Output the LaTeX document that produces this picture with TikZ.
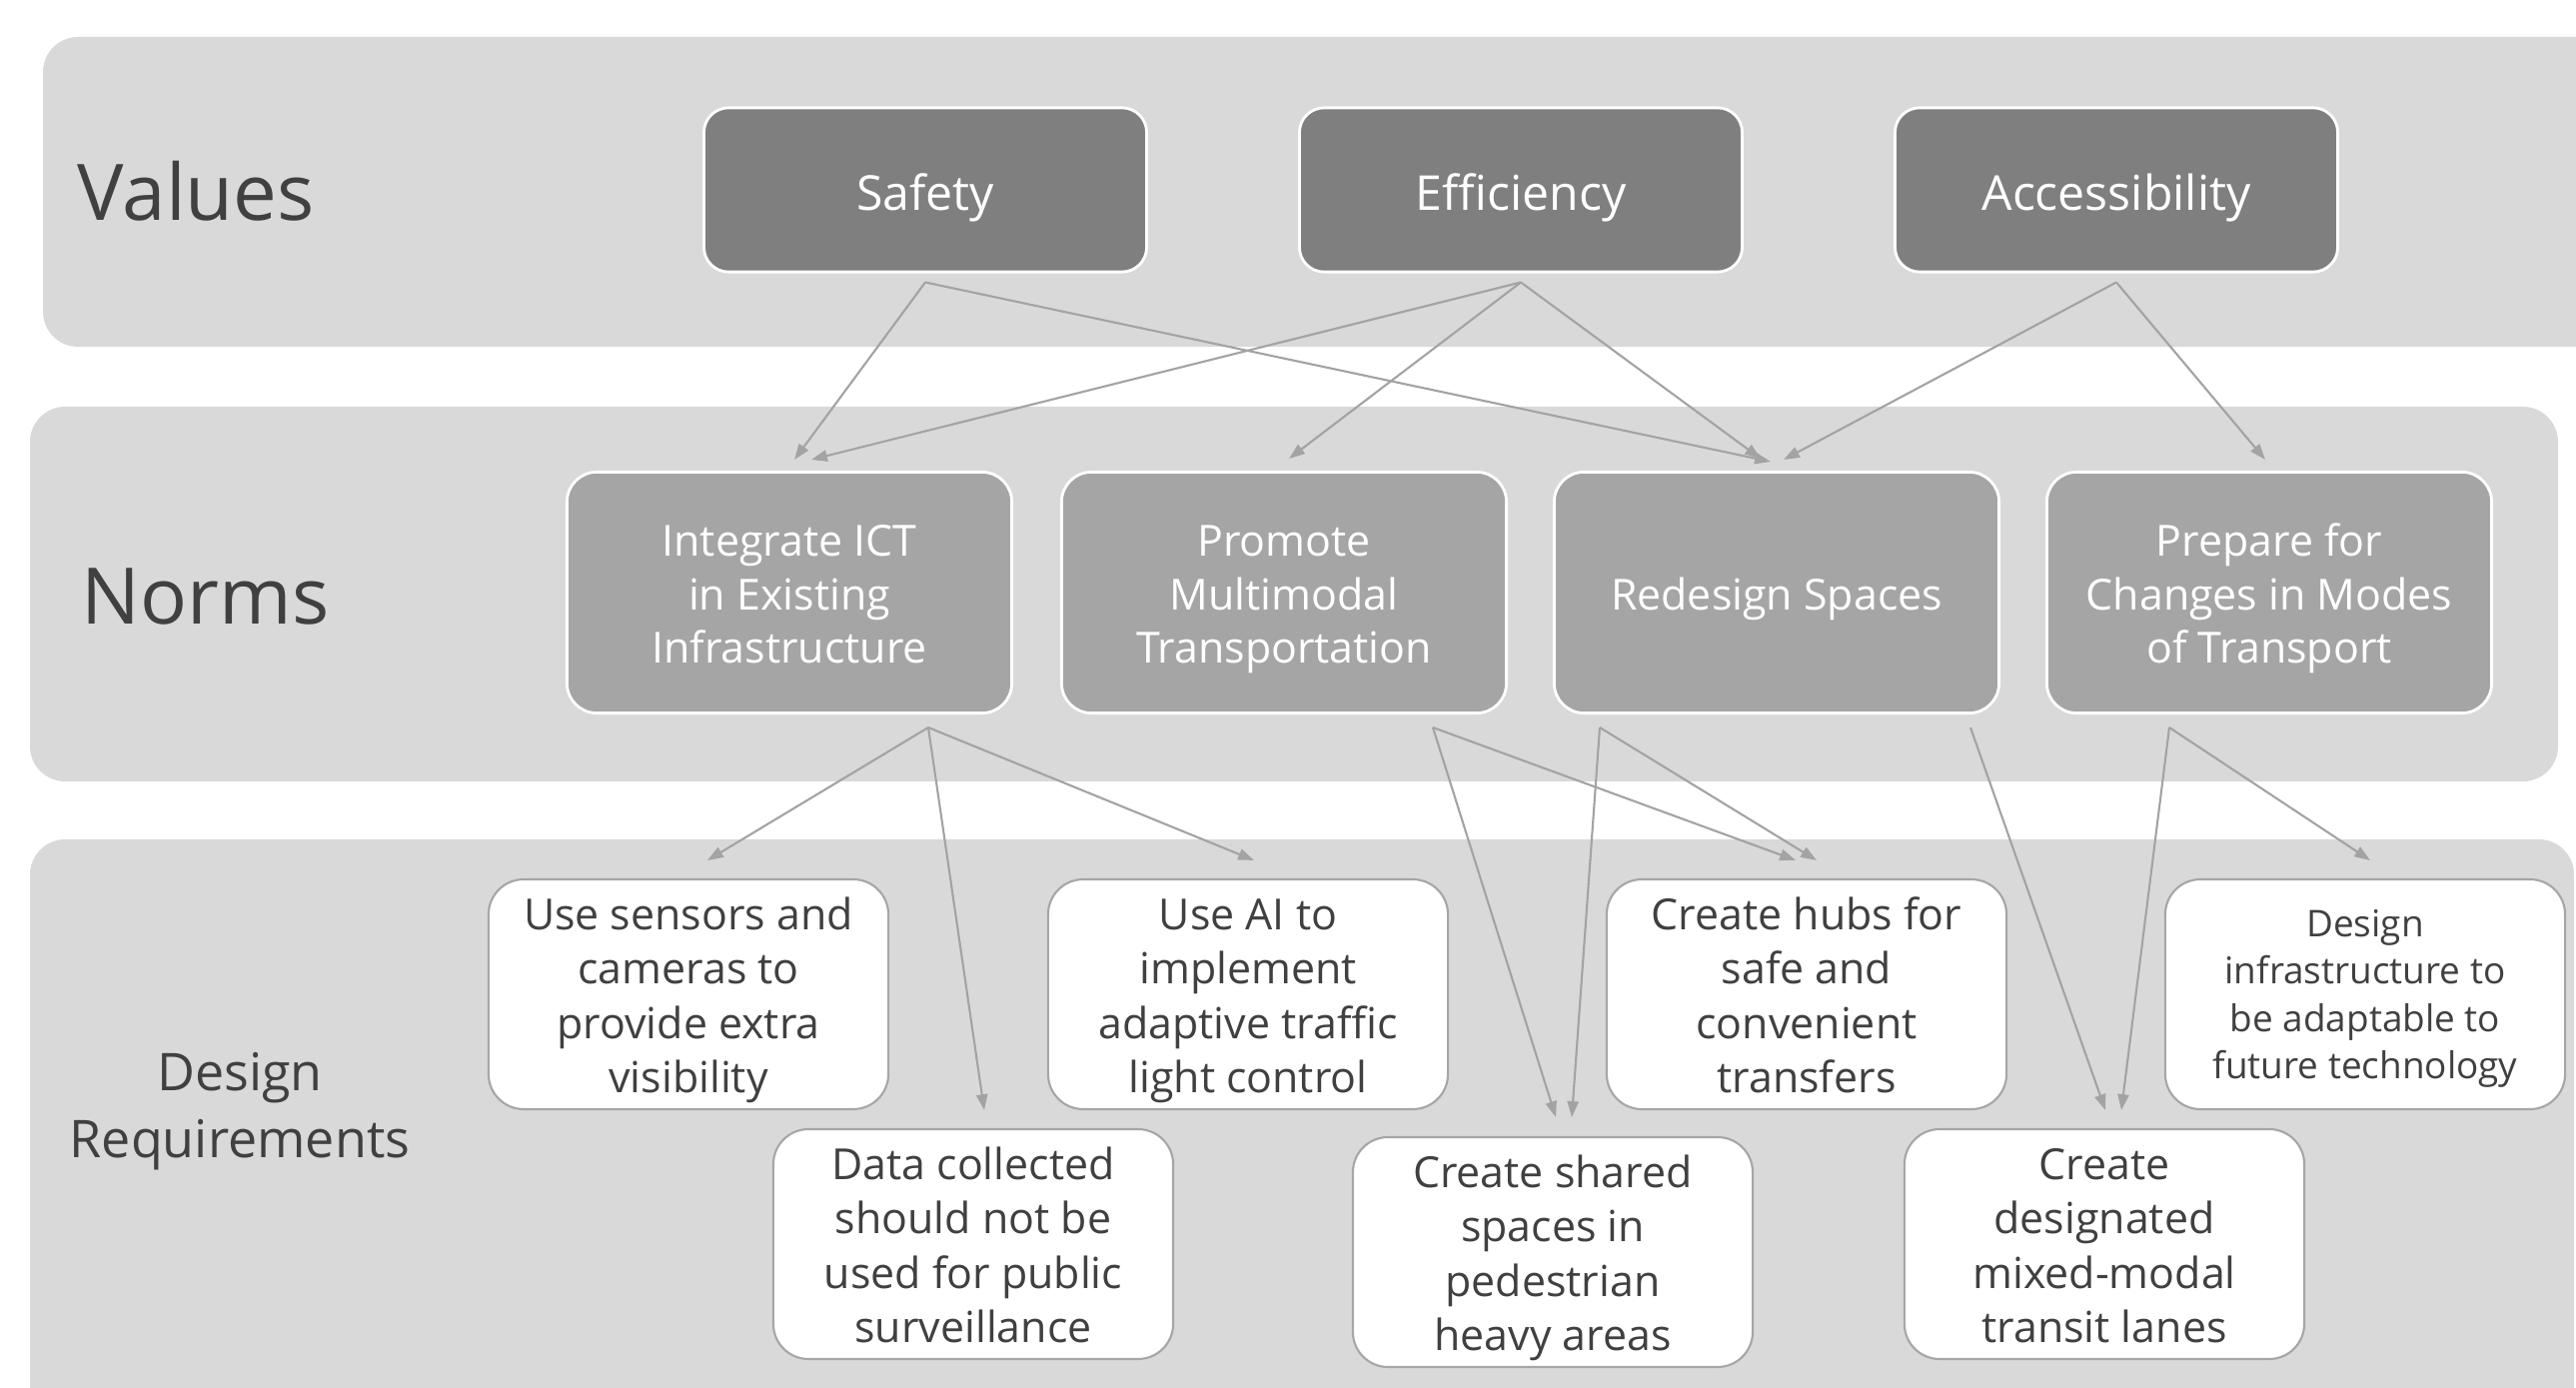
\documentclass[tikz,border=0pt]{standalone}
\usepackage{fontspec}
\setmainfont{Open Sans}
\usetikzlibrary{arrows.meta,calc}
\definecolor{bandgray}{HTML}{D9D9D9}
\definecolor{valgray}{HTML}{7F7F7F}
\definecolor{normgray}{HTML}{A5A5A5}
\definecolor{reqborder}{HTML}{A6A6A6}
\definecolor{txtdark}{HTML}{404040}
\definecolor{arrowgray}{HTML}{A3A3A3}
% struts fixing the vertical placement of text inside boxes
\newcommand{\valtop}{\rule{0pt}{14.9pt}}
\newcommand{\valbot}{\rule[-3.5pt]{0pt}{3.5pt}}
\newcommand{\ntop}{\rule{0pt}{12.9pt}}
\newcommand{\nbot}{\rule[-3.2pt]{0pt}{3.2pt}}
\newcommand{\smtop}{\rule{0pt}{10.5pt}}
\newcommand{\smbot}{\rule[-2.8pt]{0pt}{2.8pt}}
\begin{document}
\begin{tikzpicture}[x=0.01cm,y=-0.01cm,
  band/.style={fill=bandgray,draw=none,rounded corners=10pt},
  sidelabel/.style={text=txtdark,inner sep=0pt,font=\fontsize{22.2}{26}\selectfont},
  valbox/.style={draw=white,line width=0.8pt,fill=valgray,rounded corners=7pt,
    minimum width=126pt,minimum height=46.7pt,inner sep=0pt,text=white,
    font=\fontsize{13.7}{16}\selectfont},
  normbox/.style={draw=white,line width=0.8pt,fill=normgray,rounded corners=8.5pt,
    minimum width=126.6pt,minimum height=68.6pt,inner sep=0pt,text=white,align=center,
    font=\fontsize{12.2}{15.1}\selectfont},
  reqbox/.style={draw=reqborder,line width=0.6pt,fill=white,rounded corners=10pt,
    minimum width=113.8pt,minimum height=65.4pt,inner sep=0pt,text=txtdark,align=center,
    font=\fontsize{12.2}{15.4}\selectfont},
  smallreq/.style={font=\fontsize{10.5}{13.4}\selectfont},
  arr/.style={draw=arrowgray,line width=0.6pt,-{Triangle[length=4.5pt,width=3.2pt]}}
]
\useasboundingbox (0,0) rectangle (2578,1389);
\begin{scope}
\clip (0,0) rectangle (2578,1389);
\fill[band] (43,37) rectangle (2640,347);
\fill[band] (30,407) rectangle (2560,782);
\fill[band] (30,840) rectangle (2576,1440);
\end{scope}

% side labels
\node[sidelabel,anchor=west] (lblvalues) at (77,191) {Values};
\node[sidelabel,anchor=west] (lblnorms) at (81,597) {Norms};
\node[text=txtdark,inner sep=0pt,align=center,font=\fontsize{14.8}{19}\selectfont] (lblreq) at (240,1112) {Design\\Requirements};

% values
\node[valbox] (safety) at (926,190) {\valtop Safety\valbot};
\node[valbox] (efficiency) at (1522,190) {\valtop Efficiency\valbot};
\node[valbox] (accessibility) at (2118,190) {\valtop Accessibility\valbot};

% norms
\node[normbox] (ict) at (790,593) {\ntop Integrate ICT\\in Existing\\Infrastructure\nbot};
\node[normbox] (promote) at (1285,593) {\ntop Promote\\Multimodal\\Transportation\nbot};
\node[normbox] (redesign) at (1778,593) {\ntop Redesign Spaces\nbot};
\node[normbox] (prepare) at (2271,593) {\ntop Prepare for\\Changes in Modes\\of Transport\nbot};

% design requirements
\node[reqbox] (sensors) at (689,995) {\ntop Use sensors and\\cameras to\\provide extra\\visibility\nbot};
\node[reqbox] (ai) at (1249,995) {\ntop Use AI to\\implement\\adaptive traffic\\light control\nbot};
\node[reqbox] (hubs) at (1808,995) {\ntop Create hubs for\\safe and\\convenient\\transfers\nbot};
\node[reqbox,smallreq] (future) at (2367,995) {\smtop Design\\infrastructure to\\be adaptable to\\future technology\smbot};
\node[reqbox] (data) at (974,1245) {\ntop Data collected\\should not be\\used for public\\surveillance\nbot};
\node[reqbox] (shared) at (1554,1253) {\ntop Create shared\\spaces in\\pedestrian\\heavy areas\nbot};
\node[reqbox] (lanes) at (2106,1245) {\ntop Create\\designated\\mixed-modal\\transit lanes\nbot};

% values -> norms
\draw[arr] ($(safety.south)+(0,9)$) -- ($(ict.north)+(5,-11)$);
\draw[arr] ($(safety.south)+(0,9)$) -- ($(redesign.north)+(-6,-9)$);
\draw[arr] ($(efficiency.south)+(0,9)$) -- ($(ict.north)+(22,-11)$);
\draw[arr] ($(efficiency.south)+(0,9)$) -- ($(promote.north)+(5,-12)$);
\draw[arr] ($(efficiency.south)+(0,9)$) -- ($(redesign.north)+(-16,-12)$);
\draw[arr] ($(accessibility.south)+(0,9)$) -- ($(redesign.north)+(7,-11)$);
\draw[arr] ($(accessibility.south)+(0,9)$) -- ($(prepare.north)+(-4,-11)$);

% norms -> design requirements
\draw[arr] ($(ict.south)+(139,13)$) -- ($(sensors.north)+(19,-18)$);
\draw[arr] ($(ict.south)+(139,13)$) -- ($(data.north)+(11,-18)$);
\draw[arr] ($(ict.south)+(139,13)$) -- ($(ai.north)+(6,-18)$);
\draw[arr] ($(promote.south)+(149,13)$) -- ($(shared.north)+(3,-19)$);
\draw[arr] ($(promote.south)+(149,13)$) -- ($(hubs.north)+(-11,-18)$);
\draw[arr] ($(redesign.south)+(-177,13)$) -- ($(shared.north)+(19,-19)$);
\draw[arr] ($(redesign.south)+(-177,13)$) -- ($(hubs.north)+(10,-18)$);
\draw[arr] ($(redesign.south)+(194,13)$) -- ($(lanes.north)+(1,-18)$);
\draw[arr] ($(prepare.south)+(-100,13)$) -- ($(lanes.north)+(17,-18)$);
\draw[arr] ($(prepare.south)+(-100,13)$) -- ($(future.north)+(5,-18)$);
\end{tikzpicture}
\end{document}
